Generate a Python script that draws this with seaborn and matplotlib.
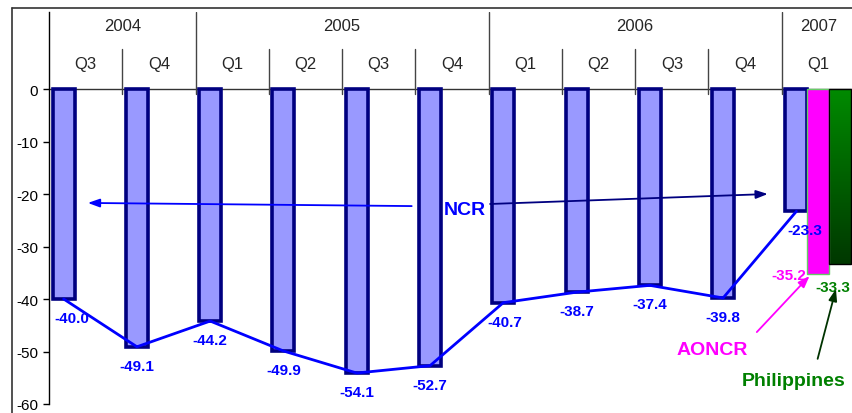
import numpy as np
import pandas as pd
import matplotlib
matplotlib.use("Agg")
import matplotlib.pyplot as plt
from matplotlib.lines import Line2D
from matplotlib.colors import LinearSegmentedColormap
import seaborn as sns

# data
years = ["2004", "2004", "2005", "2005", "2005", "2005",
         "2006", "2006", "2006", "2006", "2007"]
quarters = ["Q3", "Q4", "Q1", "Q2", "Q3", "Q4", "Q1", "Q2", "Q3", "Q4", "Q1"]
ncr = [-40.0, -49.1, -44.2, -49.9, -54.1, -52.7, -40.7, -38.7, -37.4, -39.8, -23.3]
aoncr = [-35.2]        # 2007 Q1 only
philippines = [-33.3]  # 2007 Q1 only
series = ["NCR", "AONCR", "Philippines"]

periods = [f"{y} {q}" for y, q in zip(years, quarters)]
rows = [{"period": p, "series": "NCR", "value": v} for p, v in zip(periods, ncr)]
rows.append({"period": periods[-1], "series": "AONCR", "value": aoncr[0]})
rows.append({"period": periods[-1], "series": "Philippines", "value": philippines[0]})
df = pd.DataFrame(rows)

sns.set_style("white")
plt.rcParams["font.family"] = ["Liberation Sans", "DejaVu Sans"]
plt.rcParams["axes.unicode_minus"] = False

fig = plt.figure(figsize=(8.53, 4.14), dpi=100)
ax = fig.add_axes([49 / 853, 9 / 414, 806 / 853, 392 / 414])

sns.barplot(data=df, x="period", y="value", hue="series", order=periods,
            hue_order=series, width=0.9, dodge=True, legend=False, ax=ax,
            palette=["#9999FF", "#FF00FF", "#008000"], saturation=1)

ncr_bars, aon_bars, phl_bars = ax.containers
for b in ncr_bars:
    b.set_facecolor("#9999FF")
    b.set_edgecolor("#000080")
    b.set_linewidth(2.6)
for b in aon_bars:
    b.set_facecolor("#FF00FF")
    b.set_edgecolor("#66CC66")
    b.set_linewidth(1)

# Philippines bar: green gradient
green = LinearSegmentedColormap.from_list("g", ["#008A00", "#003800"])
for b in phl_bars:
    x0, w, h = b.get_x(), b.get_width(), b.get_height()
    b.set_facecolor("none")
    b.set_edgecolor("black")
    b.set_linewidth(1)
    im = ax.imshow(np.linspace(0, 1, 100).reshape(-1, 1), cmap=green,
                   extent=[x0, x0 + w, h, 0], aspect="auto", zorder=0.9)
    im.set_clip_path(b)

ncr_x = [b.get_x() + b.get_width() / 2 for b in ncr_bars]
aon_x = aon_bars[0].get_x() + aon_bars[0].get_width() / 2
phl_x = phl_bars[0].get_x() + phl_bars[0].get_width() / 2

sns.lineplot(x=ncr_x, y=ncr, sort=False, color="#0000FF", lw=2, ax=ax, zorder=5)

ax.set_xlim(-0.5, len(periods) - 0.5)
ax.set_ylim(-60, 14.67)
ax.set_xticks([])
ax.set_xlabel("")
ax.set_ylabel("")
ax.set_yticks(range(-60, 1, 10))
ax.tick_params(axis="y", direction="out", length=4, width=1, pad=4,
               labelsize=11, left=True, colors="black")
for s in ["top", "right", "bottom"]:
    ax.spines[s].set_visible(False)
ax.spines["left"].set_color("black")
ax.spines["left"].set_linewidth(1)
ax.axhline(0, color="#333333", lw=1, zorder=0.5)

# header: quarters and years
for i, q in enumerate(quarters):
    ax.text(i, 4.95, q, ha="center", va="center", fontsize=12)
    if i > 0:
        top = 14.67 if years[i] != years[i - 1] else 7.6
        ax.plot([i - 0.5, i - 0.5], [top, -1.0], color="#444444", lw=1)
for y in dict.fromkeys(years):
    idx = [i for i, yy in enumerate(years) if yy == y]
    ax.text(np.mean(idx), 12.1, y, ha="center", va="center", fontsize=12)

# value labels
nudge = [0.11, 0, 0, 0, 0, 0, 0.02, 0, 0, 0, 0.11]
for x, v, dx in zip(ncr_x, ncr, nudge):
    ax.text(x + dx, v - 3.6, f"{v:.1f}", ha="center", va="center",
            color="#0000FF", fontsize=11, fontweight="bold")
ax.text(aon_x - 0.4, aoncr[0] - 0.2, f"{aoncr[0]:.1f}", ha="center", va="center",
        color="#FF00FF", fontsize=11, fontweight="bold")
ax.text(phl_x - 0.1, philippines[0] - 4.4, f"{philippines[0]:.1f}", ha="center",
        va="center", color="#008000", fontsize=11, fontweight="bold")

# series callouts
arrow = dict(arrowstyle="-|>,head_length=0.7,head_width=0.25", lw=1.3,
             shrinkA=0, shrinkB=0, mutation_scale=10)
ax.text(5.18, -22.9, "NCR", ha="center", va="center", color="#0000FF",
        fontsize=14, fontweight="bold")
ax.annotate("", xy=(0.03, -21.7), xytext=(4.45, -22.3),
            arrowprops=dict(arrow, color="#0000FF"))
ax.annotate("", xy=(9.31, -20.0), xytext=(5.52, -21.9),
            arrowprops=dict(arrow, color="#000080"))
ax.text(8.55, -49.7, "AONCR", ha="center", va="center", color="#FF00FF",
        fontsize=14, fontweight="bold")
ax.annotate("", xy=(9.88, -35.6), xytext=(9.16, -46.3),
            arrowprops=dict(arrow, color="#FF00FF"))
ax.text(9.66, -55.6, "Philippines", ha="center", va="center", color="#008000",
        fontsize=14, fontweight="bold")
ax.annotate("", xy=(10.24, -38.1), xytext=(9.99, -51.4),
            arrowprops=dict(arrow, color="#003300"))

# outer frame (top and left)
fig.add_artist(Line2D([12 / 853, 1], [1 - 9 / 414] * 2, color="#333333", lw=1.2))
fig.add_artist(Line2D([12 / 853] * 2, [0, 1 - 9 / 414], color="#333333", lw=1.2))

fig.savefig("out.png", dpi=100)
